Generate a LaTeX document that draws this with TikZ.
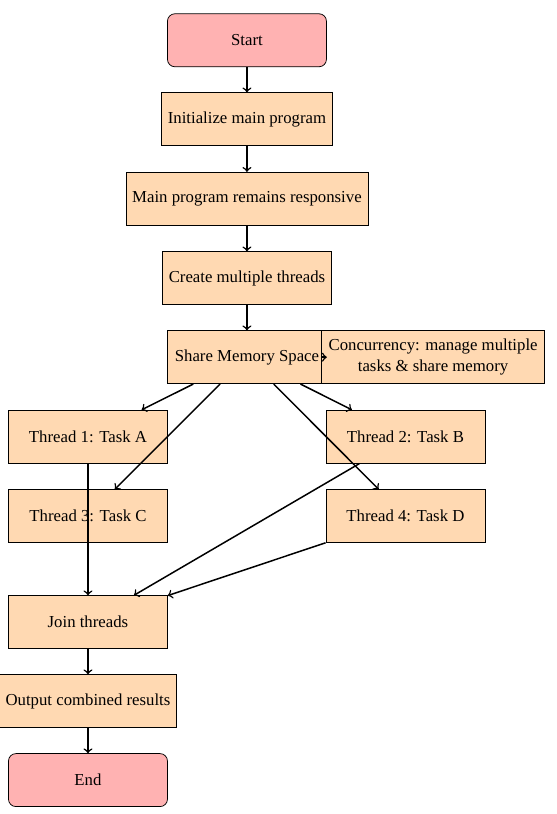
\documentclass[tikz,border=0pt]{standalone}
\usepackage{fontspec}
\setmainfont{Liberation Serif}
\usepackage{tikz}

\tikzset{
    startstop/.style={rectangle, rounded corners, draw, fill=red!30, minimum width=3cm, minimum height=1cm, font=\small},
    process/.style={rectangle, draw, fill=orange!30, minimum width=3cm, minimum height=1cm, font=\small},
    arrow/.style={thick, ->}
}

\begin{document}
\begin{tikzpicture}
    \useasboundingbox (0,0) rectangle (10.51,-15.36);
    \node[startstop] (start) at (4.66,-0.76) {Start};
    \node[process] (init) at (4.66,-2.25) {Initialize main program};
    \node[process] (responsive) at (4.66,-3.75) {Main program remains responsive};
    \node[process] (create) at (4.66,-5.25) {Create multiple threads};
    \node[process] (share) at (4.66,-6.74) {Share Memory Space};
    \node[process, anchor=west, minimum width=4.21cm, align=center] (concurrency) at (6.06,-6.74) {Concurrency: manage multiple\\tasks \& share memory};
    \node[process] (threadA) at (1.66,-8.24) {Thread 1: Task A};
    \node[process] (threadB) at (7.65,-8.24) {Thread 2: Task B};
    \node[process] (threadC) at (1.66,-9.74) {Thread 3: Task C};
    \node[process] (threadD) at (7.65,-9.74) {Thread 4: Task D};
    \node[process] (join) at (1.66,-11.74) {Join threads};
    \node[process] (output) at (1.66,-13.23) {Output combined results};
    \node[startstop] (end) at (1.66,-14.72) {End};

    \draw[arrow] (start) -- (init);
    \draw[arrow] (init) -- (responsive);
    \draw[arrow] (responsive) -- (create);
    \draw[arrow] (create) -- (share);
    \draw[arrow] (concurrency) -- (share);
    \draw[arrow] (share) -- (threadA);
    \draw[arrow] (share) -- (threadB);
    \draw[arrow] (share) -- (threadC);
    \draw[arrow] (share) -- (threadD);
    \draw[arrow] (threadA) -- (join);
    \draw[arrow] (threadB) -- (join);
    \draw[arrow] (threadD) -- (join);
    \draw[arrow] (join) -- (output);
    \draw[arrow] (output) -- (end);
\end{tikzpicture}
\end{document}
